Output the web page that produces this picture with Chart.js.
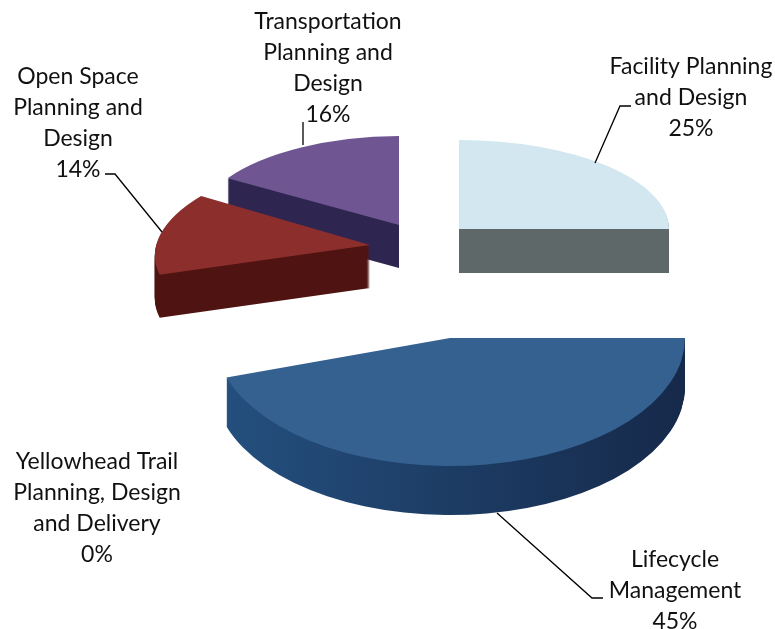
<!DOCTYPE html>
<html>
<head>
<meta charset="utf-8">
<style>
  html, body { margin: 0; padding: 0; background: #fff; }
  canvas { display: block; }
</style>
<script src="https://cdn.jsdelivr.net/npm/chart.js@4/dist/chart.umd.min.js"></script>
</head>
<body>
<canvas id="pie" width="775" height="629"></canvas>
<script>
const categories = [
  "Facility Planning and Design",
  "Lifecycle Management",
  "Yellowhead Trail Planning, Design and Delivery",
  "Open Space Planning and Design",
  "Transportation Planning and Design",
];
const percentages = [25, 45, 0, 14, 16];

// how each label wraps, in the same order as categories
const labelLines = [
  ["Facility Planning", "and Design"],
  ["Lifecycle", "Management"],
  ["Yellowhead Trail", "Planning, Design", "and Delivery"],
  ["Open Space", "Planning and", "Design"],
  ["Transportation", "Planning and", "Design"],
];
const labelAnchors = [
  [691, 67], [675, 560], [97, 462], [78, 77], [328, 22],
];
const leaderLines = [
  [[595, 163], [620, 106], [631, 106]],
  [[497, 513], [592, 598], [603, 598]],
  null,
  [[162, 232], [115, 174], [105, 174]],
  [[303, 145], [303, 122]],
];

// per slice 3D look: apex on the page, images of the x and y radius, wall height
const sliceViews = [
  { apex: [459, 229], u: [210, 0], v: [0, 89], depth: 44 },
  { apex: [450, 338], u: [235, 0], v: [0, 128], depth: 49 },
  null,
  { apex: [370, 245], u: [214, -1], v: [-22, 93], depth: 43 },
  { apex: [399, 225], u: [203, -1], v: [0, 89], depth: 43 },
];
const topColors = ["#d3e7f1", "#34618f", "#98b954", "#8c2e2b", "#6f5592"];
const wallColors = [
  ["#5e6869", "#5e6869"],
  ["#24507f", "#16294a"],
  ["#5a6e30", "#5a6e30"],
  ["#4f1312", "#4f1312"],
  ["#2e2650", "#2e2650"],
];
const drawOrder = [4, 3, 0, 1];

function paintArc(ctx, arc, view, fill, dropY) {
  const r = arc.outerRadius;
  const saved = arc.options;
  ctx.save();
  ctx.transform(
    view.u[0] / r, view.u[1] / r,
    view.v[0] / r, view.v[1] / r,
    view.apex[0], view.apex[1] + dropY,
  );
  ctx.translate(-arc.x, -arc.y);
  arc.options = Object.assign({}, saved, { backgroundColor: fill });
  arc.draw(ctx);
  arc.options = saved;
  ctx.restore();
}

const pie3d = {
  id: "pie3d",
  // the flat pie is replaced by the extruded version
  beforeDatasetsDraw(chart) {
    const ctx = chart.ctx;
    const arcs = chart.getDatasetMeta(0).data;

    drawOrder.forEach((i) => {
      const arc = arcs[i];
      const view = sliceViews[i];
      const shade = ctx.createLinearGradient(arc.x - arc.outerRadius, 0, arc.x + arc.outerRadius, 0);
      shade.addColorStop(0, wallColors[i][0]);
      shade.addColorStop(1, wallColors[i][1]);
      for (let d = view.depth; d > 0; d--) {
        paintArc(ctx, arc, view, shade, d);
      }
      paintArc(ctx, arc, view, topColors[i], 0);
    });
    return false;
  },
  afterDraw(chart) {
    const ctx = chart.ctx;
    ctx.save();

    ctx.strokeStyle = "#000";
    ctx.lineWidth = 1.3;
    leaderLines.forEach((line) => {
      if (!line) return;
      ctx.beginPath();
      line.forEach((p, n) => (n ? ctx.lineTo(p[0], p[1]) : ctx.moveTo(p[0], p[1])));
      ctx.stroke();
    });

    ctx.fillStyle = "#111";
    ctx.font = '23px Lato, "Open Sans", sans-serif';
    ctx.textAlign = "center";
    ctx.textBaseline = "middle";
    categories.forEach((name, i) => {
      const rows = labelLines[i].concat(percentages[i] + "%");
      rows.forEach((row, n) => {
        ctx.fillText(row, labelAnchors[i][0], labelAnchors[i][1] + n * 30.8);
      });
    });
    ctx.restore();
  },
};

new Chart(document.getElementById("pie"), {
  type: "pie",
  data: {
    labels: categories,
    datasets: [
      {
        data: percentages,
        backgroundColor: topColors,
        borderWidth: 0,
      },
    ],
  },
  options: {
    responsive: false,
    animation: false,
    events: [],
    plugins: {
      legend: { display: false },
      tooltip: { enabled: false },
    },
  },
  plugins: [pie3d],
});
</script>
</body>
</html>
